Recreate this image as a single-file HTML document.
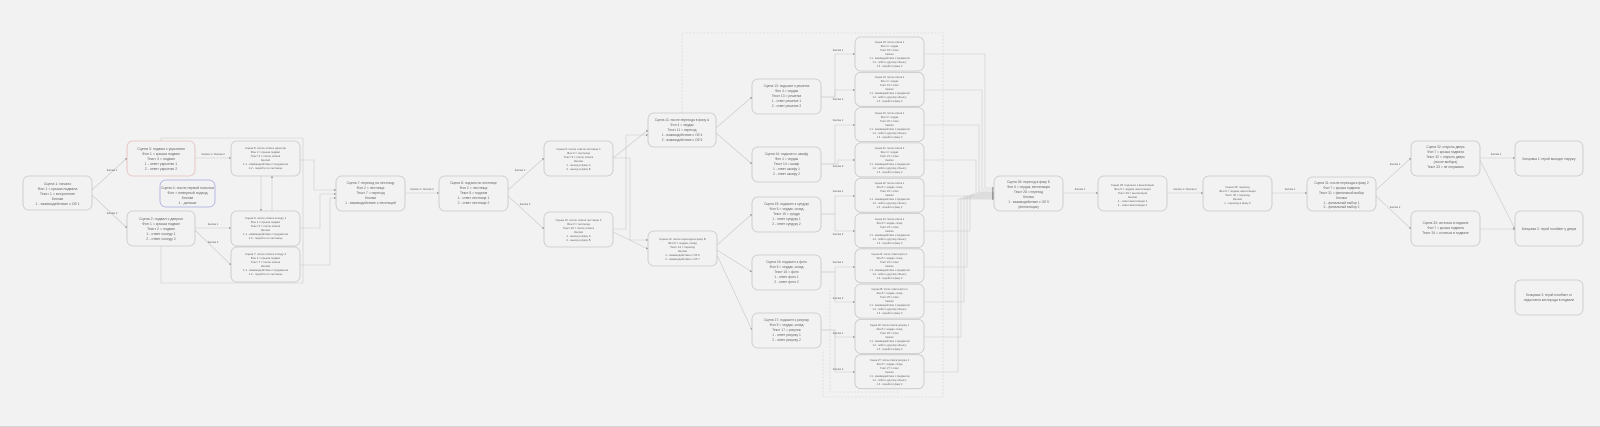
<!DOCTYPE html>
<html><head><meta charset="utf-8"><style>
html,body{margin:0;padding:0;background:#f2f2f2;}
svg{display:block}
text{font-family:"Liberation Sans","DejaVu Sans",sans-serif;fill:#666;text-anchor:middle}
.n{fill:#f2f2f2;stroke:#c6c6c6;stroke-width:0.8}
.e{fill:none;stroke:#c8c8c8;stroke-width:0.6}
.d{fill:none;stroke:#cfcfcf;stroke-width:0.6;stroke-dasharray:2 1.5}
.l{font-size:2.6px;fill:#999}
</style></head><body>
<svg width="1600" height="427" viewBox="0 0 1600 427" xmlns="http://www.w3.org/2000/svg">
<defs><marker id="a" markerWidth="4" markerHeight="4" refX="3.5" refY="2" orient="auto"><path d="M0,0 L4,2 L0,4z" fill="#999"/></marker></defs>
<rect width="1600" height="427" fill="#f2f2f2"/>
<line x1="0" y1="426.5" x2="1600" y2="426.5" stroke="#d4d4d4"/>

<!-- dashed loops -->
<path class="d" d="M682,113 V33 H943 V397 H823 V350"/>
<path class="d" d="M830,290 V392 H900"/>
<path class="e" d="M161,141 V138 H303 V283 H161 V246"/>

<!-- edges -->
<g class="e" marker-end="url(#a)">
<path d="M92,190 L127,158"/><path d="M92,195 L127,228"/>
<path d="M195,158 H231"/><path d="M195,228 H231"/><path d="M195,230 L231,265"/>
<path d="M261,176 V211"/><path d="M272,211 V176"/>
<path d="M300,160 H314 V190 H336"/><path d="M300,228 H320 V194 H336"/><path d="M300,265 H330 V198 H336"/>
<path d="M405,193 H439"/>
<path d="M508,190 L544,158"/><path d="M508,196 L544,229"/>
<path d="M613,158 L648,130"/><path d="M613,158 H630 V240 H648"/>
<path d="M613,229 H626 V135 H648"/><path d="M613,232 L648,249"/>
<path d="M716,128 L752,97"/><path d="M716,133 L752,164"/>
<path d="M717,245 L752,214"/><path d="M717,250 L752,272"/><path d="M717,255 L752,330"/>
<path d="M821,97 H835 V54 H855"/><path d="M821,97 H835 V90 H855"/>
<path d="M821,164 H835 V125 H855"/><path d="M821,164 H838 V160 H855"/>
<path d="M821,214 H835 V196 H855"/><path d="M821,214 H835 V231 H855"/>
<path d="M821,272 H835 V267 H855"/><path d="M821,272 H835 V302 H855"/>
<path d="M821,330 H835 V337 H855"/><path d="M821,330 H835 V372 H855"/>
<path d="M924,54 H985 V188 H994"/><path d="M924,90 H982 V190 H994"/>
<path d="M924,125 H979 V192 H994"/><path d="M924,160 H976 V193 H994"/>
<path d="M924,196 H973 V194 H994"/><path d="M924,231 H970 V195 H994"/>
<path d="M924,267 H967 V196 H994"/><path d="M924,302 H964 V197 H994"/>
<path d="M924,337 H961 V198 H994"/><path d="M924,372 H958 V199 H994"/>
<path d="M1063,193 H1098"/><path d="M1167,193 H1203"/><path d="M1272,193 H1307"/>
<path d="M1376,190 L1411,158"/><path d="M1376,196 L1411,229"/>
<path d="M1480,158 H1515"/><path d="M1480,160 L1515,229"/><path d="M1480,229 H1515"/>
</g>
<g class="l">
<text x="112" y="171">Кнопка 1</text><text x="112" y="214">Кнопка 2</text>
<text x="213" y="155">Кнопка 1 / Кнопка 2</text><text x="213" y="225">Кнопка 1</text><text x="213" y="243">Кнопка 2</text>
<text x="422" y="190">Кнопка 1 / Кнопка 2</text><text x="520" y="171">Кнопка 1</text><text x="525" y="205">Кнопка 2</text>
<text x="1080" y="190">Кнопка 1</text><text x="1185" y="190">Кнопка 1 / Кнопка 2</text><text x="1290" y="190">Кнопка 1</text>
<text x="1496" y="155">Кнопка 1</text><text x="1395" y="165">Кнопка 1</text><text x="1395" y="208">Кнопка 2</text>
<text x="838" y="51">Кнопка 1</text><text x="838" y="100">Кнопка 2</text><text x="838" y="121">Кнопка 1</text><text x="838" y="167">Кнопка 2</text>
<text x="838" y="192">Кнопка 1</text><text x="838" y="235">Кнопка 2</text><text x="838" y="263">Кнопка 1</text><text x="838" y="299">Кнопка 2</text><text x="838" y="334">Кнопка 1</text><text x="838" y="370">Кнопка 2</text>
</g>

<!-- nodes -->
<g font-size="3.6">
<rect class="n" x="23" y="176" width="69" height="34" rx="6"/>
<text x="57.5" y="185">Сцена 1: начало</text><text x="57.5" y="190">Фон 1 = крыша подвала</text><text x="57.5" y="195">Текст 1 = вступление</text><text x="57.5" y="200">Кнопки</text><text x="57.5" y="205">1 - взаимодействие с Об 1</text>

<rect class="n" x="127" y="141" width="68" height="35" rx="6" style="stroke:#e6bcbc"/>
<text x="161" y="150">Сцена 3: подвал с укрытием</text><text x="161" y="155">Фон 1 = крыша подвал</text><text x="161" y="160">Текст 3 = подвал</text><text x="161" y="165">1 - ответ укрытию 1</text><text x="161" y="170">2 - ответ укрытию 2</text>

<rect class="n" x="160" y="180" width="55" height="27" rx="6" style="stroke:#a8a8e0"/>
<text x="187.5" y="189" fill="#66a">Сцена 4: после первой попытки</text><text x="187.5" y="194">Фон = неверный подход</text><text x="187.5" y="199">Кнопки</text><text x="187.5" y="204">1 - дальше</text>

<rect class="n" x="127" y="211" width="68" height="35" rx="6"/>
<text x="161" y="220">Сцена 2: подвал с дверью</text><text x="161" y="225">Фон 1 = крыша подвал</text><text x="161" y="230">Текст 2 = подвал</text><text x="161" y="235">1 - ответ соседу 1</text><text x="161" y="240">2 - ответ соседу 2</text>
</g>
<g font-size="2.8">
<rect class="n" x="231" y="141" width="69" height="35" rx="6"/>
<text x="265.5" y="149">Сцена 5: после ответа укрытию</text><text x="265.5" y="153">Фон 1 = крыша подвал</text><text x="265.5" y="157">Текст 5 = после ответа</text><text x="265.5" y="161">Кнопки</text><text x="265.5" y="165">1.1 - взаимодействие с предметом</text><text x="265.5" y="169">1.2 - перейти по лестнице</text>
<rect class="n" x="231" y="211" width="69" height="35" rx="6"/>
<text x="265.5" y="219">Сцена 6: после ответа соседу 1</text><text x="265.5" y="223">Фон 1 = крыша подвал</text><text x="265.5" y="227">Текст 6 = после ответа</text><text x="265.5" y="231">Кнопки</text><text x="265.5" y="235">1.1 - взаимодействие с предметом</text><text x="265.5" y="239">1.2 - перейти по лестнице</text>
<rect class="n" x="231" y="247" width="69" height="35" rx="6"/>
<text x="265.5" y="255">Сцена 7: после ответа соседу 2</text><text x="265.5" y="259">Фон 1 = крыша подвал</text><text x="265.5" y="263">Текст 7 = после ответа</text><text x="265.5" y="267">Кнопки</text><text x="265.5" y="271">1.1 - взаимодействие с предметом</text><text x="265.5" y="275">1.2 - перейти по лестнице</text>
</g>
<g font-size="3.4">
<rect class="n" x="336" y="176" width="69" height="35" rx="6"/>
<text x="370.5" y="184">Сцена 7: переход на лестницу</text><text x="370.5" y="189">Фон 2 = лестница</text><text x="370.5" y="194">Текст 7 = переход</text><text x="370.5" y="199">Кнопки</text><text x="370.5" y="204">1 - взаимодействие с лестницей</text>
<rect class="n" x="439" y="176" width="69" height="35" rx="6"/>
<text x="473.5" y="184">Сцена 8: подъем по лестнице</text><text x="473.5" y="189">Фон 2 = лестница</text><text x="473.5" y="194">Текст 8 = подъем</text><text x="473.5" y="199">1 - ответ лестнице 1</text><text x="473.5" y="204">2 - ответ лестнице 2</text>
</g>
<g font-size="2.8">
<rect class="n" x="544" y="141" width="69" height="35" rx="6"/>
<text x="578.5" y="150">Сцена 9: после ответа лестнице 1</text><text x="578.5" y="154">Фон 3 = лестница</text><text x="578.5" y="158">Текст 9 = после ответа</text><text x="578.5" y="162">Кнопки</text><text x="578.5" y="166">1 - выход в фазу А</text><text x="578.5" y="170">2 - выход в фазу Б</text>
<rect class="n" x="544" y="212" width="69" height="35" rx="6"/>
<text x="578.5" y="221">Сцена 10: после ответа лестнице 2</text><text x="578.5" y="225">Фон 3 = лестница</text><text x="578.5" y="229">Текст 10 = после ответа</text><text x="578.5" y="233">Кнопки</text><text x="578.5" y="237">1 - выход в фазу А</text><text x="578.5" y="241">2 - выход в фазу Б</text>
</g>
<g font-size="3.3">
<rect class="n" x="648" y="113" width="68" height="34" rx="6"/>
<text x="682" y="121">Сцена 11: после перехода в фазу А</text><text x="682" y="126">Фон 4 = чердак</text><text x="682" y="131">Текст 11 = переход</text><text x="682" y="136">1 - взаимодействие с Об 4</text><text x="682" y="141">2 - взаимодействие с Об 5</text>
</g>
<g font-size="2.8">
<rect class="n" x="648" y="231" width="69" height="35" rx="6"/>
<text x="682.5" y="240">Сцена 12: после перехода в фазу Б</text><text x="682.5" y="244">Фон 5 = чердак, склад</text><text x="682.5" y="248">Текст 12 = переход</text><text x="682.5" y="252">Кнопки</text><text x="682.5" y="256">1 - взаимодействие с Об 6</text><text x="682.5" y="260">2 - взаимодействие с Об 7</text>
</g>
<g font-size="3.3">
<rect class="n" x="752" y="79" width="69" height="35" rx="6"/>
<text x="786.5" y="87">Сцена 13: подошел к решетке</text><text x="786.5" y="92">Фон 4 = чердак</text><text x="786.5" y="97">Текст 13 = решетка</text><text x="786.5" y="102">1 - ответ решетке 1</text><text x="786.5" y="107">2 - ответ решетке 2</text>
<rect class="n" x="752" y="147" width="69" height="35" rx="6"/>
<text x="786.5" y="155">Сцена 14: подошел к шкафу</text><text x="786.5" y="160">Фон 4 = чердак</text><text x="786.5" y="165">Текст 14 = шкаф</text><text x="786.5" y="170">1 - ответ шкафу 1</text><text x="786.5" y="175">2 - ответ шкафу 2</text>
<rect class="n" x="752" y="197" width="69" height="35" rx="6"/>
<text x="786.5" y="205">Сцена 15: подошел к сундуку</text><text x="786.5" y="210">Фон 5 = чердак, склад</text><text x="786.5" y="215">Текст 15 = сундук</text><text x="786.5" y="220">1 - ответ сундуку 1</text><text x="786.5" y="225">2 - ответ сундуку 2</text>
<rect class="n" x="752" y="255" width="69" height="35" rx="6"/>
<text x="786.5" y="263">Сцена 16: подошел к фото</text><text x="786.5" y="268">Фон 5 = чердак, склад</text><text x="786.5" y="273">Текст 16 = фото</text><text x="786.5" y="278">1 - ответ фото 1</text><text x="786.5" y="283">2 - ответ фото 2</text>
<rect class="n" x="752" y="313" width="69" height="35" rx="6"/>
<text x="786.5" y="321">Сцена 17: подошел к рисунку</text><text x="786.5" y="326">Фон 5 = чердак, склад</text><text x="786.5" y="331">Текст 17 = рисунок</text><text x="786.5" y="336">1 - ответ рисунку 1</text><text x="786.5" y="341">2 - ответ рисунку 2</text>
</g>
<g font-size="2.5">
<rect class="n" x="855" y="37" width="69" height="34" rx="6"/><text x="889.5" y="43">Сцена 18: после ответа 1</text><text x="889.5" y="47">Фон 4 = чердак</text><text x="889.5" y="51">Текст 18 = ответ</text><text x="889.5" y="55">Кнопки</text><text x="889.5" y="59">1.1 - взаимодействие с предметом</text><text x="889.5" y="63">1.2 - пойти к другому объекту</text><text x="889.5" y="67">1.3 - перейти в фазу 2</text>
<rect class="n" x="855" y="72.3" width="69" height="34" rx="6"/><text x="889.5" y="78">Сцена 19: после ответа 2</text><text x="889.5" y="82">Фон 4 = чердак</text><text x="889.5" y="86">Текст 19 = ответ</text><text x="889.5" y="90">Кнопки</text><text x="889.5" y="94">1.1 - взаимодействие с предметом</text><text x="889.5" y="98">1.2 - пойти к другому объекту</text><text x="889.5" y="102">1.3 - перейти в фазу 2</text>
<rect class="n" x="855" y="107.6" width="69" height="34" rx="6"/><text x="889.5" y="114">Сцена 20: после ответа 1</text><text x="889.5" y="118">Фон 4 = чердак</text><text x="889.5" y="122">Текст 20 = ответ</text><text x="889.5" y="126">Кнопки</text><text x="889.5" y="130">1.1 - взаимодействие с предметом</text><text x="889.5" y="134">1.2 - пойти к другому объекту</text><text x="889.5" y="138">1.3 - перейти в фазу 2</text>
<rect class="n" x="855" y="142.9" width="69" height="34" rx="6"/><text x="889.5" y="149">Сцена 21: после ответа 2</text><text x="889.5" y="153">Фон 4 = чердак</text><text x="889.5" y="157">Текст 21 = ответ</text><text x="889.5" y="161">Кнопки</text><text x="889.5" y="165">1.1 - взаимодействие с предметом</text><text x="889.5" y="169">1.2 - пойти к другому объекту</text><text x="889.5" y="173">1.3 - перейти в фазу 2</text>
<rect class="n" x="855" y="178.2" width="69" height="34" rx="6"/><text x="889.5" y="184">Сцена 22: после ответа 1</text><text x="889.5" y="188">Фон 5 = чердак, склад</text><text x="889.5" y="192">Текст 22 = ответ</text><text x="889.5" y="196">Кнопки</text><text x="889.5" y="200">1.1 - взаимодействие с предметом</text><text x="889.5" y="204">1.2 - пойти к другому объекту</text><text x="889.5" y="208">1.3 - перейти в фазу 2</text>
<rect class="n" x="855" y="213.5" width="69" height="34" rx="6"/><text x="889.5" y="220">Сцена 23: после ответа 2</text><text x="889.5" y="224">Фон 5 = чердак, склад</text><text x="889.5" y="228">Текст 23 = ответ</text><text x="889.5" y="232">Кнопки</text><text x="889.5" y="236">1.1 - взаимодействие с предметом</text><text x="889.5" y="240">1.2 - пойти к другому объекту</text><text x="889.5" y="244">1.3 - перейти в фазу 2</text>
<rect class="n" x="855" y="248.8" width="69" height="34" rx="6"/><text x="889.5" y="255">Сцена 24: после ответа фото 1</text><text x="889.5" y="259">Фон 5 = чердак, склад</text><text x="889.5" y="263">Текст 24 = ответ</text><text x="889.5" y="267">Кнопки</text><text x="889.5" y="271">1.1 - взаимодействие с предметом</text><text x="889.5" y="275">1.2 - пойти к другому объекту</text><text x="889.5" y="279">1.3 - перейти в фазу 2</text>
<rect class="n" x="855" y="284.1" width="69" height="34" rx="6"/><text x="889.5" y="290">Сцена 25: после ответа фото 2</text><text x="889.5" y="294">Фон 5 = чердак, склад</text><text x="889.5" y="298">Текст 25 = ответ</text><text x="889.5" y="302">Кнопки</text><text x="889.5" y="306">1.1 - взаимодействие с предметом</text><text x="889.5" y="310">1.2 - пойти к другому объекту</text><text x="889.5" y="314">1.3 - перейти в фазу 2</text>
<rect class="n" x="855" y="319.4" width="69" height="34" rx="6"/><text x="889.5" y="326">Сцена 26: после ответа рисунку 1</text><text x="889.5" y="330">Фон 5 = чердак, склад</text><text x="889.5" y="334">Текст 26 = ответ</text><text x="889.5" y="338">Кнопки</text><text x="889.5" y="342">1.1 - взаимодействие с предметом</text><text x="889.5" y="346">1.2 - пойти к другому объекту</text><text x="889.5" y="350">1.3 - перейти в фазу 2</text>
<rect class="n" x="855" y="354.7" width="69" height="34" rx="6"/><text x="889.5" y="361">Сцена 27: после ответа рисунку 2</text><text x="889.5" y="365">Фон 5 = чердак, склад</text><text x="889.5" y="369">Текст 27 = ответ</text><text x="889.5" y="373">Кнопки</text><text x="889.5" y="377">1.1 - взаимодействие с предметом</text><text x="889.5" y="381">1.2 - пойти к другому объекту</text><text x="889.5" y="385">1.3 - перейти в фазу 2</text>
</g>
<g font-size="3.3">
<rect class="n" x="994" y="176" width="69" height="35" rx="6"/>
<text x="1028.5" y="183">Сцена 28: переход в фазу Б</text><text x="1028.5" y="188">Фон 6 = чердак, вентиляция</text><text x="1028.5" y="193">Текст 28 = переход</text><text x="1028.5" y="198">Кнопки</text><text x="1028.5" y="203">1 - взаимодействие с Об 9</text><text x="1028.5" y="208">(вентиляция)</text>
</g>
<g font-size="2.8">
<rect class="n" x="1098" y="176" width="69" height="35" rx="6"/>
<text x="1132.5" y="186">Сцена 29: подошел к вентиляции</text><text x="1132.5" y="190">Фон 6 = чердак, вентиляция</text><text x="1132.5" y="194">Текст 29 = вентиляция</text><text x="1132.5" y="198">Кнопки</text><text x="1132.5" y="202">1 - ответ вентиляции 1</text><text x="1132.5" y="206">2 - ответ вентиляции 2</text>
<rect class="n" x="1203" y="176" width="69" height="35" rx="6"/>
<text x="1237.5" y="188">Сцена 30: переход</text><text x="1237.5" y="192">Фон 6 = чердак, вентиляция</text><text x="1237.5" y="196">Текст 30 = переход</text><text x="1237.5" y="200">Кнопки</text><text x="1237.5" y="204">1 - переход в фазу 2</text>
</g>
<g font-size="3.3">
<rect class="n" x="1307" y="177" width="69" height="34" rx="6"/>
<text x="1341.5" y="184">Сцена 31: после перехода в фазу 2</text><text x="1341.5" y="189">Фон 7 = крыша подвала</text><text x="1341.5" y="194">Текст 31 = финальный выбор</text><text x="1341.5" y="199">Кнопки</text><text x="1341.5" y="204">1 - финальный выбор 1</text><text x="1341.5" y="208">2 - финальный выбор 2</text>
<rect class="n" x="1411" y="141" width="69" height="35" rx="6"/>
<text x="1445.5" y="148">Сцена 32: открыть дверь</text><text x="1445.5" y="153">Фон 7 = крыша подвала</text><text x="1445.5" y="158">Текст 32 = открыть дверь</text><text x="1445.5" y="163">(после выбора)</text><text x="1445.5" y="168">Текст 33 = не открывать</text>
<rect class="n" x="1411" y="211" width="69" height="35" rx="6"/>
<text x="1445.5" y="224">Сцена 33: остаться в подвале</text><text x="1445.5" y="229">Фон 7 = крыша подвала</text><text x="1445.5" y="234">Текст 34 = остаться в подвале</text>
<rect class="n" x="1515" y="141" width="68" height="35" rx="6"/>
<text x="1549" y="160">Концовка 1: герой выходит наружу</text>
<rect class="n" x="1515" y="211" width="68" height="35" rx="6"/>
<text x="1549" y="230">Концовка 2: герой погибает у двери</text>
<rect class="n" x="1515" y="280" width="68" height="35" rx="6"/>
<text x="1549" y="296">Концовка 3: герой погибает от</text><text x="1549" y="301">недостатка кислорода в подвале</text>
</g>
</svg>
</body></html>
